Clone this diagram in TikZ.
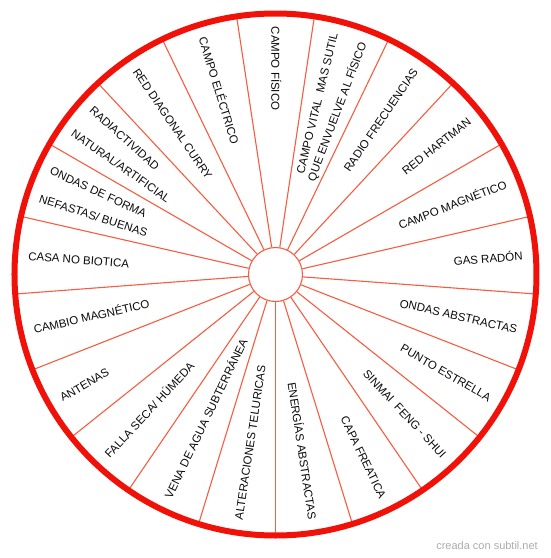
\documentclass[tikz,border=0pt]{standalone}
\usepackage{fontspec}
\setmainfont{Liberation Sans}
\usepackage{xcolor}
\usetikzlibrary{positioning}
\definecolor{wheelRed}{RGB}{240,18,8}
\definecolor{wheelSpoke}{RGB}{246,92,64}
\definecolor{wheelInk}{RGB}{10,10,10}
\definecolor{wheelGrey}{RGB}{172,172,172}

\begin{document}
\begin{tikzpicture}[x=1pt,y=1pt,
  L/.style={inner sep=0pt,text=wheelInk,font=\fontsize{11.5}{13}\selectfont,
            text height=8.3pt,text depth=0pt},
  O/.style={L,anchor=east},   % reads from the hub outwards
  I/.style={L,anchor=west},   % reads from the rim inwards
  spoke/.style={draw=wheelSpoke,line width=1.1pt},
  rim/.style={draw=wheelRed,line width=6pt}]

\useasboundingbox (-275.5,-283.5) rectangle (274.5,274.5);

\node[circle,draw=wheelSpoke,line width=1.1pt,minimum size=54pt,inner sep=0pt]
   (hub) at (0,0) {};

% sector dividers
\draw[spoke] (hub.81.43)  -- (81.43:260);
\draw[spoke] (hub.98.57)  -- (98.57:260);
\draw[spoke] (hub.115.71) -- (115.71:260);
\draw[spoke] (hub.132.86) -- (132.86:260);
\draw[spoke] (hub.150)    -- (150:260);
\draw[spoke] (hub.167.14) -- (167.14:260);
\draw[spoke] (hub.184.29) -- (184.29:260);
\draw[spoke] (hub.201.43) -- (201.43:260);
\draw[spoke] (hub.218.57) -- (218.57:260);
\draw[spoke] (hub.235.71) -- (235.71:260);
\draw[spoke] (hub.252.86) -- (252.86:260);
\draw[spoke] (hub.270)    -- (270:260);
\draw[spoke] (hub.287.14) -- (287.14:260);
\draw[spoke] (hub.304.29) -- (304.29:260);
\draw[spoke] (hub.321.43) -- (321.43:260);
\draw[spoke] (hub.338.57) -- (338.57:260);
\draw[spoke] (hub.355.71) -- (355.71:260);
\draw[spoke] (hub.12.86)  -- (12.86:260);
\draw[spoke] (hub.30)     -- (30:260);
\draw[spoke] (hub.47.14)  -- (47.14:260);
\draw[spoke] (hub.64.29)  -- (64.29:260);

\draw[rim] (0,0) circle (261pt);

% right half: text runs outwards
\node[I,rotate=270]     (fisico)  at (90:248)      {CAMPO FÍSICO};
\node[O,rotate=76.36]   (vitalA)  at (76.36:248)   {CAMPO VITAL\ \ MAS SUTIL};
\node[O,rotate=69.36]   (vitalB)  at (69.36:248)   {QUE ENVUELVE AL FÍSICO};
\node[O,rotate=55.71]   (radio)   at (55.71:248)   {RADIO FRECUENCIAS};
\node[O,rotate=38.57]   (hartman) at (38.57:248)   {RED HARTMAN};
\node[O,rotate=21.43]   (magneto) at (21.43:248)   {CAMPO MAGNÉTICO};
\node[O,rotate=4.29]    (radon)   at (4.29:248)    {GAS RADÓN};
\node[O,rotate=-12.86]  (ondasAb) at (-12.86:248)  {ONDAS ABSTRACTAS};
\node[O,rotate=-30]     (estrella) at (-30:248)    {PUNTO ESTRELLA};
\node[O,rotate=-47.14]  (sinmai)  at (-47.14:248)  {SINMAI\ \ FENG - SHUI};
\node[O,rotate=-64.29]  (capa)    at (-64.29:248)  {CAPA FREATICA};
\node[O,rotate=-81.43]  (energia) at (-81.43:248)  {ENERGÍAS ABSTRACTAS};

% left half: text runs inwards
\node[I,rotate=81.43]   (teluric) at (-98.57:248)  {ALTERACIONES TELURICAS};
\node[I,rotate=64.29]   (vena)    at (-115.71:248) {VENA DE AGUA SUBTERRÁNEA};
\node[I,rotate=47.14]   (falla)   at (-132.86:248) {FALLA SECA/ HÚMEDA};
\node[I,rotate=30]      (antenas) at (-150:248)    {ANTENAS};
\node[I,rotate=12.86]   (cambio)  at (-167.14:248) {CAMBIO MAGNÉTICO};
\node[I,rotate=-4.29]   (casa)    at (175.71:248)  {CASA NO BIOTICA};
\node[I,rotate=-24.93]  (formaA)  at (155.07:248)  {ONDAS DE FORMA};
\node[I,rotate=-17.93]  (formaB)  at (162.07:248)  {NEFASTAS/ BUENAS};
\node[I,rotate=-42.07]  (radiacA) at (137.93:248)  {RADIACTIVIDAD};
\node[I,rotate=-35.07]  (radiacB) at (144.93:248)  {NATURAL/ARTIFICIAL};
\node[I,rotate=-55.71]  (curry)   at (124.29:248)  {RED DIAGONAL CURRY};
\node[I,rotate=-72.86]  (electro) at (107.14:248)  {CAMPO ELÉCTRICO};

\node[anchor=east,inner sep=0pt,text=wheelGrey,font=\fontsize{11}{13}\selectfont]
   (credit) at (262.5,-271.5) {creada con subtil.net};
\end{tikzpicture}
\end{document}
